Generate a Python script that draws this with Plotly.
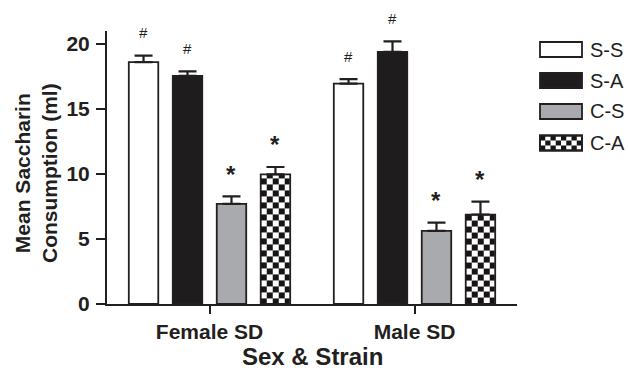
import numpy as np
import plotly.graph_objects as go

# ---------------- data ----------------
groups = ["Female SD", "Male SD"]
series = ["S-S", "S-A", "C-S", "C-A"]
ss_vals = [18.6, 16.95]
sa_vals = [17.55, 19.4]
cs_vals = [7.7, 5.62]
ca_vals = [9.97, 6.88]
ss_err = [0.5, 0.35]
sa_err = [0.35, 0.8]
cs_err = [0.58, 0.64]
ca_err = [0.57, 1.0]
marks = {"S-S": ["#", "#"], "S-A": ["#", "#"], "C-S": ["*", "*"], "C-A": ["*", "*"]}
y_ticks = [0, 5, 10, 15, 20]

values = {"S-S": ss_vals, "S-A": sa_vals, "C-S": cs_vals, "C-A": ca_vals}
errors = {"S-S": ss_err, "S-A": sa_err, "C-S": cs_err, "C-A": ca_err}

# ---------------- style ----------------
FONT = "Liberation Sans, Arial, Helvetica, sans-serif"
INK = "#231f20"
fills = {"S-S": "white", "S-A": "#1e1c1d", "C-S": "#a9aaad", "C-A": "rgba(0,0,0,0)"}
BARGAP = 0.142
BARGROUPGAP = 0.33

W, H = 628, 371
ML, MR, MT, MB = 107, 111, 31, 67
PW, PH = W - ML - MR, H - MT - MB
YMAX = 21.0

def px_x(px):
    return (px - ML) / PW

def px_y(py):
    return (H - MB - py) / PH

fig = go.Figure()

# geometry of grouped bars (same rule plotly uses for barmode='group')
gidx = np.arange(len(groups))
slot = (1 - BARGAP) / len(series)
bar_w = slot * (1 - BARGROUPGAP)

def bar_center(i):
    return -(1 - BARGAP) / 2 + slot * (i + 0.5)

# checkerboard fill for C-A bars (heatmap drawn beneath the bar outline)
ci = series.index("C-A")
ncol = 5
row_h = 0.46
for g, v in zip(gidx, ca_vals):
    cx = g + bar_center(ci)
    xe = np.linspace(cx - bar_w / 2, cx + bar_w / 2, ncol + 1)
    ye = np.append(np.arange(0, v, row_h), v)
    nrow = len(ye) - 1
    z = [[(r + c + 1) % 2 for c in range(ncol)] for r in range(nrow)]
    fig.add_trace(go.Heatmap(x=xe, y=ye, z=z, colorscale=[[0, "white"], [1, "#161415"]],
                             zmin=0, zmax=1, showscale=False, hoverinfo="skip"))

for i, s in enumerate(series):
    fig.add_trace(go.Bar(
        name=s, x=gidx, y=values[s],
        marker=dict(color=fills[s], line=dict(color=INK, width=1.8)),
        error_y=dict(type="data", array=errors[s], arrayminus=[0] * len(groups),
                     symmetric=False, color=INK, thickness=2.2, width=9),
        showlegend=False,
    ))

# significance marks
for i, s in enumerate(series):
    for g in gidx:
        top = values[s][g] + errors[s][g]
        m = marks[s][g]
        if m == "#":
            font = dict(family=FONT, size=15, color=INK)
            ys = 23
        else:
            font = dict(family=FONT, size=24, color=INK, weight="bold")
            ys = 22
        fig.add_annotation(x=g + bar_center(i), y=top, text=m, showarrow=False,
                           xref="x", yref="y", yanchor="middle", yshift=ys, font=font)

# manual legend
leg_x0, leg_x1 = 540, 582
leg_cy = [49.5, 80.5, 111.5, 143]
box_h = 15
for s, cy in zip(series, leg_cy):
    y0, y1 = cy + box_h / 2, cy - box_h / 2
    fc = fills[s] if s != "C-A" else "white"
    fig.add_shape(type="rect", xref="paper", yref="paper",
                  x0=px_x(leg_x0), x1=px_x(leg_x1), y0=px_y(y0), y1=px_y(y1),
                  fillcolor=fc, line=dict(color=INK, width=1.8), layer="above")
    if s == "C-A":
        nc, nr = 8, 3
        cw = (leg_x1 - leg_x0) / nc
        chh = box_h / nr
        for r in range(nr):
            for c in range(nc):
                if (r + c) % 2 == 0:
                    fig.add_shape(type="rect", xref="paper", yref="paper",
                                  x0=px_x(leg_x0 + c * cw), x1=px_x(leg_x0 + (c + 1) * cw),
                                  y0=px_y(y1 + r * chh), y1=px_y(y1 + (r + 1) * chh),
                                  fillcolor="#161415", line=dict(width=0), layer="above")
        fig.add_shape(type="rect", xref="paper", yref="paper",
                      x0=px_x(leg_x0), x1=px_x(leg_x1), y0=px_y(y0), y1=px_y(y1),
                      fillcolor="rgba(0,0,0,0)", line=dict(color=INK, width=1.8), layer="above")
    fig.add_annotation(xref="paper", yref="paper", x=px_x(588), y=px_y(cy), text=s,
                       showarrow=False, xanchor="left", yanchor="middle",
                       font=dict(family=FONT, size=20, color=INK))

# axis titles
fig.add_annotation(xref="paper", yref="paper", x=px_x(36), y=px_y(173),
                   text="Mean Saccharin<br>Consumption (ml)", textangle=-90, showarrow=False,
                   xanchor="center", yanchor="middle",
                   font=dict(family=FONT, size=21, color=INK, weight="bold"))
fig.add_annotation(xref="paper", yref="paper", x=px_x(312), y=px_y(356),
                   text="Sex &amp; Strain", showarrow=False, xanchor="center", yanchor="middle",
                   borderpad=0,
                   font=dict(family=FONT, size=24, color=INK, weight="bold"))

fig.update_layout(
    width=W, height=H, margin=dict(l=ML, r=MR, t=MT, b=MB),
    paper_bgcolor="white", plot_bgcolor="white",
    barmode="group", bargap=BARGAP, bargroupgap=BARGROUPGAP,
    showlegend=False,
    xaxis=dict(range=[-0.5, 1.5], tickvals=list(gidx), ticktext=groups,
               showgrid=False, zeroline=False, showline=True, linecolor=INK, linewidth=2,
               ticks="outside", ticklen=8, tickwidth=2, tickcolor=INK,
               tickfont=dict(family=FONT, size=21, color=INK, weight="bold")),
    yaxis=dict(range=[0, YMAX], tickvals=y_ticks, showgrid=False, zeroline=False,
               showline=True, linecolor=INK, linewidth=2,
               ticks="outside", ticklen=9, tickwidth=2, tickcolor=INK,
               ticklabelstandoff=2,
               tickfont=dict(family=FONT, size=21, color=INK, weight="bold")),
)

fig.write_html("out.html", config={"displayModeBar": False},
               post_script="document.body.style.margin='0px';document.body.style.overflow='hidden';")
